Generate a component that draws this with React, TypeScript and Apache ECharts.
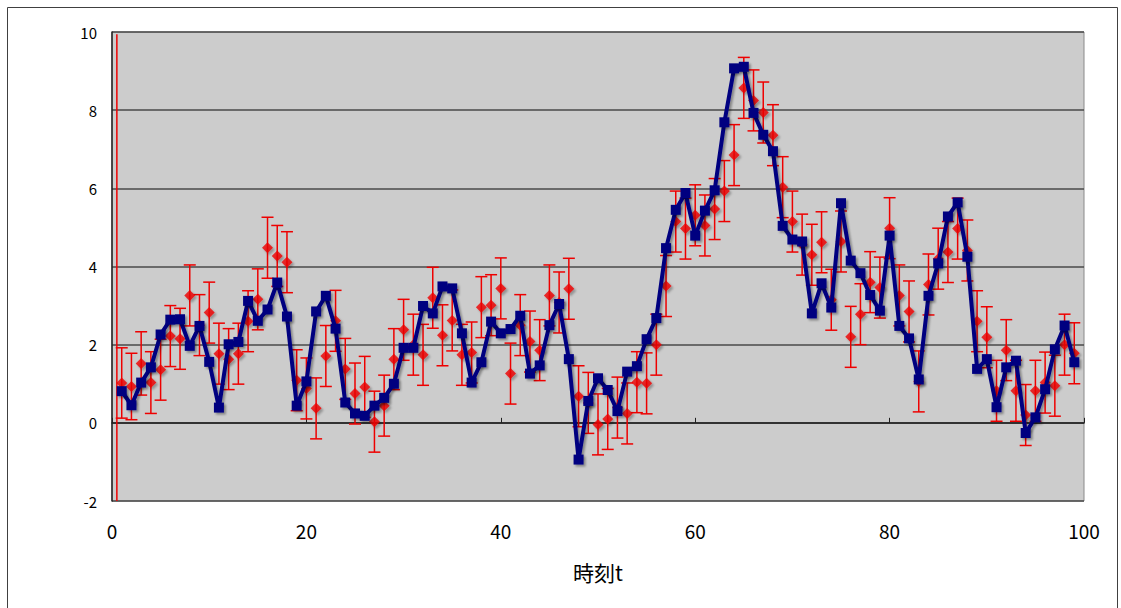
import React, { useEffect, useRef } from "react";
import * as echarts from "echarts";

// Filtered estimate (blue squares) for t = 1..99
const ESTIMATE = [
  0.81, 0.45, 1.03, 1.42, 2.26, 2.64, 2.65, 1.97, 2.48, 1.56,
  0.39, 2.01, 2.07, 3.12, 2.61, 2.9, 3.59, 2.72, 0.44, 1.06,
  2.85, 3.25, 2.41, 0.52, 0.24, 0.18, 0.44, 0.64, 1.0, 1.92,
  1.92, 2.99, 2.8, 3.49, 3.44, 2.29, 1.03, 1.55, 2.59, 2.29,
  2.4, 2.74, 1.26, 1.47, 2.5, 3.04, 1.63, -0.94, 0.56, 1.14,
  0.84, 0.3, 1.31, 1.45, 2.14, 2.68, 4.47, 5.45, 5.88, 4.79,
  5.43, 5.95, 7.69, 9.07, 9.11, 7.93, 7.37, 6.95, 5.04, 4.69,
  4.64, 2.8, 3.57, 2.95, 5.62, 4.15, 3.83, 3.27, 2.87, 4.79,
  2.48, 2.16, 1.11, 3.25, 4.08, 5.28, 5.64, 4.25, 1.38, 1.63,
  0.4, 1.42, 1.59, -0.26, 0.14, 0.86, 1.88, 2.49, 1.55,
];

// Red diamonds with error bars for t = 1..99
const MEASURED = [
  1.02, 0.93, 1.52, 1.03, 1.36, 2.22, 2.15, 3.26, 2.5, 2.82,
  1.77, 1.63, 1.77, 2.6, 3.16, 4.48, 4.27, 4.11, 1.09, 0.88,
  0.37, 1.71, 2.61, 1.38, 0.75, 0.92, 0.03, 0.44, 1.63, 2.38,
  2.0, 1.74, 3.2, 2.24, 2.62, 1.74, 1.8, 2.96, 3.01, 3.44,
  1.26, 2.5, 2.08, 1.86, 3.26, 3.08, 3.43, 0.68, 0.51, -0.04,
  0.1, 0.39, 0.24, 1.04, 1.01, 2.0, 3.5, 5.15, 4.97, 5.31,
  5.05, 5.47, 5.93, 6.85, 8.57, 8.25, 7.94, 7.36, 6.03, 5.15,
  4.56, 4.3, 4.62, 3.15, 4.64, 2.2, 2.78, 3.6, 3.46, 4.98,
  3.26, 2.85, 1.06, 3.54, 4.2, 4.37, 4.97, 4.41, 2.6, 2.19,
  0.82, 1.86, 0.82, 0.2, 0.82, 1.03, 0.95, 2.0, 1.78,
];

// Error bar half-widths: wider during the first steps, then steady
const ERR_EARLY = [0.9, 0.85, 0.81, 0.79];
const ERR_STEADY = 0.78;

// Initial (prior) uncertainty bar near t = 0
const PRIOR_BAR = { t: 0.5, low: -2, high: 9.94 };

const X_TICKS = [0, 20, 40, 60, 80, 100];
const Y_TICKS = [-2, 0, 2, 4, 6, 8, 10];

const RED = "#ee0000";
const NAVY = "#000080";
const FONT = "'Noto Sans CJK JP', 'Noto Sans', sans-serif";

export default function App() {
  const ref = useRef<HTMLDivElement>(null);

  useEffect(() => {
    if (!ref.current) return;
    const chart = echarts.init(ref.current, undefined, { renderer: "svg" });

    const times = ESTIMATE.map((_, i) => i + 1);
    const estData = times.map((t, i) => [t, ESTIMATE[i]]);
    const measData = times.map((t, i) => [t, MEASURED[i]]);
    const barData = times.map((t, i) => {
      const e = i < ERR_EARLY.length ? ERR_EARLY[i] : ERR_STEADY;
      return [t, MEASURED[i] - e, MEASURED[i] + e];
    });

    const barStyle = { stroke: RED, lineWidth: 1.5 };
    const makeBars = (cap: number) => (params: any, api: any) => {
      const x = api.value(0);
      const lo = api.coord([x, api.value(1)]);
      const hi = api.coord([x, api.value(2)]);
      const children: any[] = [
        { type: "line", shape: { x1: lo[0], y1: lo[1], x2: hi[0], y2: hi[1] }, style: barStyle },
      ];
      if (cap > 0) {
        children.push(
          { type: "line", shape: { x1: hi[0] - cap, y1: hi[1], x2: hi[0] + cap, y2: hi[1] }, style: barStyle },
          { type: "line", shape: { x1: lo[0] - cap, y1: lo[1], x2: lo[0] + cap, y2: lo[1] }, style: barStyle }
        );
      }
      return { type: "group", children };
    };

    const shadow = {
      shadowColor: "rgba(0,0,0,0.35)",
      shadowBlur: 2,
      shadowOffsetX: 2,
      shadowOffsetY: 2,
    };

    chart.setOption({
      animation: false,
      backgroundColor: "#ffffff",
      graphic: [
        {
          type: "rect",
          shape: { x: 7.5, y: 7.5, width: 1110, height: 700 },
          style: { fill: "none", stroke: "#404040", lineWidth: 1 },
          silent: true,
          z: -10,
        },
      ],
      grid: {
        left: 112,
        top: 32,
        right: 37,
        bottom: 107,
        show: true,
        backgroundColor: "#cccccc",
        borderColor: "#8a8a8a",
        borderWidth: 1,
      },
      xAxis: {
        type: "value",
        min: X_TICKS[0],
        max: X_TICKS[X_TICKS.length - 1],
        interval: 20,
        name: "時刻t",
        nameLocation: "middle",
        nameGap: 60,
        nameTextStyle: { fontFamily: FONT, fontSize: 21, color: "#000" },
        axisLine: { show: true, lineStyle: { color: "#202020", width: 1.5 } },
        axisTick: { show: true, inside: true, length: 5, lineStyle: { color: "#202020" } },
        axisLabel: { fontFamily: FONT, fontSize: 19, color: "#000", margin: 20 },
        splitLine: { show: false },
      },
      yAxis: {
        type: "value",
        min: Y_TICKS[0],
        max: Y_TICKS[Y_TICKS.length - 1],
        interval: 2,
        axisLine: { show: true, lineStyle: { color: "#202020", width: 1.5 } },
        axisTick: { show: false },
        axisLabel: { fontFamily: FONT, fontSize: 15, color: "#000", margin: 15 },
        splitLine: { show: true, lineStyle: { color: "#4a4a4a", width: 1.5 } },
      },
      series: [
        {
          type: "custom",
          name: "prior",
          clip: true,
          renderItem: makeBars(0),
          encode: { x: 0, y: [1, 2] },
          data: [[PRIOR_BAR.t, PRIOR_BAR.low, PRIOR_BAR.high]],
          z: 2,
        },
        {
          type: "custom",
          name: "errorbars",
          clip: true,
          renderItem: makeBars(6),
          encode: { x: 0, y: [1, 2] },
          data: barData,
          z: 2,
        },
        {
          type: "scatter",
          name: "observed",
          symbol: "diamond",
          symbolSize: 11,
          itemStyle: { color: RED, ...shadow },
          data: measData,
          z: 3,
        },
        {
          type: "line",
          name: "estimate",
          symbol: "rect",
          symbolSize: 10,
          showSymbol: true,
          lineStyle: { color: NAVY, width: 4, ...shadow },
          itemStyle: { color: NAVY, ...shadow },
          data: estData,
          z: 4,
        },
      ],
    });

    return () => chart.dispose();
  }, []);

  return (
    <div
      ref={ref}
      style={{ position: "absolute", left: 0, top: 0, width: 1121, height: 608 }}
    />
  );
}
